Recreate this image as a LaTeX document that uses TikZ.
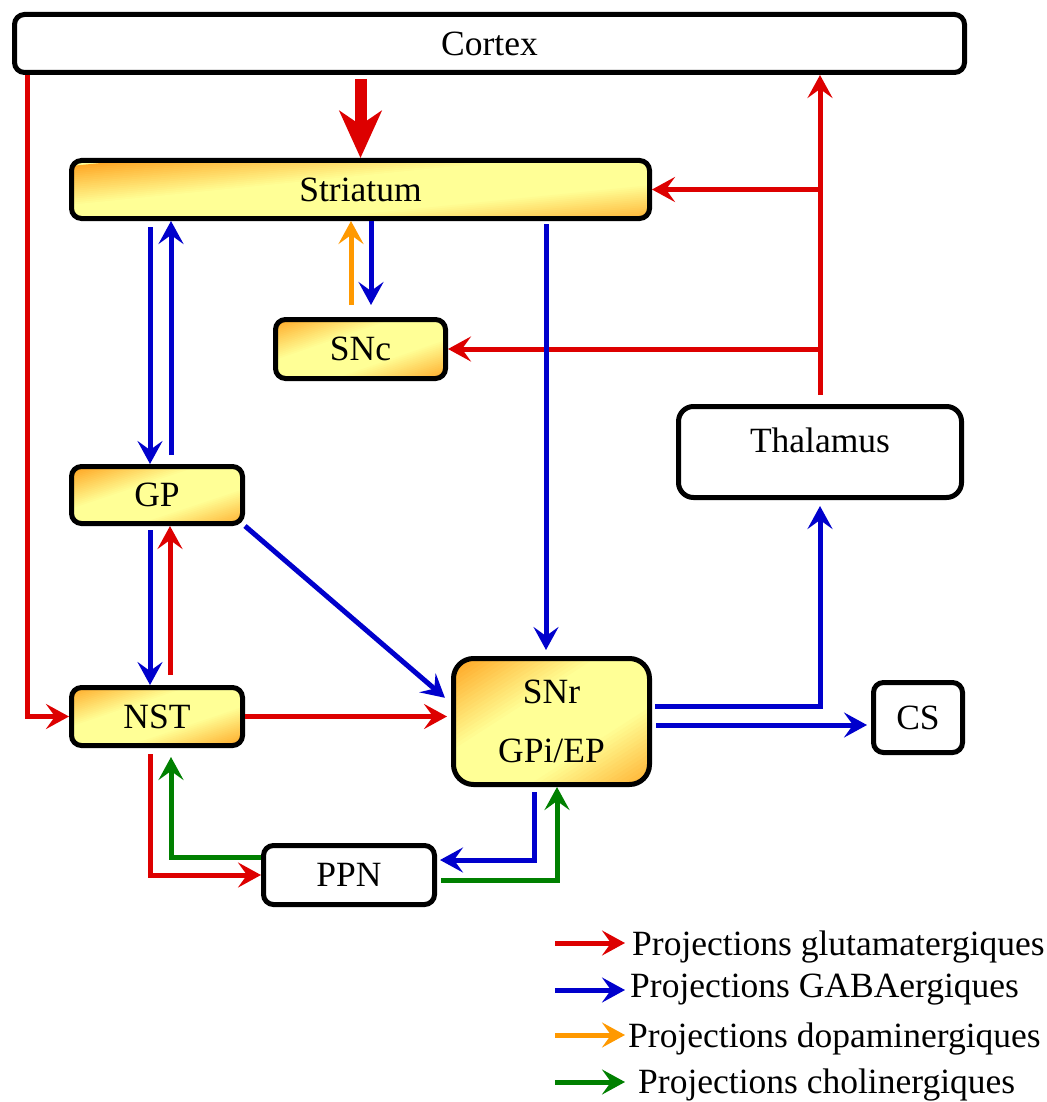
\documentclass[tikz,border=0pt]{standalone}
\usepackage{fontspec}
\setmainfont{Liberation Serif}
\usetikzlibrary{arrows.meta,calc}
\definecolor{cred}{RGB}{221,0,0}
\definecolor{cblue}{RGB}{0,0,204}
\definecolor{corange}{RGB}{255,153,0}
\definecolor{cgreen}{RGB}{0,128,0}
\definecolor{gorange}{RGB}{255,168,38}
\definecolor{gyellow}{RGB}{255,255,150}
% diagonal gradient: orange at top-left and bottom-right corners, yellow band along the other diagonal
\newcommand{\nucgradient}{%
  \begin{scope}[shift={(path picture bounding box.center)},
      x={($(path picture bounding box.east)-(path picture bounding box.center)$)},
      y={($(path picture bounding box.north)-(path picture bounding box.center)$)}]
    \foreach \nucI in {0,...,59}{%
      \pgfmathsetmacro{\nucS}{-2+4*\nucI/60}%
      \pgfmathsetmacro{\nucD}{abs((\nucI+0.5)/60-0.5)*2}%
      \pgfmathsetmacro{\nucO}{max(0,min(100,(\nucD-0.32)/0.68*100))}%
      \fill[gorange!\nucO!gyellow] (\nucS-2,-2) -- (\nucS+2,2) -- (5,2) -- (5,-2) -- cycle;
    }
  \end{scope}}
\tikzset{
  nucleus/.style={draw, line width=5pt, rounded corners=10pt, fill=gyellow, path picture={\nucgradient}, inner sep=0pt, font=\fontsize{35.5}{42}\selectfont},
  plainbox/.style={draw, line width=5pt, rounded corners=10pt, fill=white, inner sep=0pt, font=\fontsize{35.5}{42}\selectfont},
  tip/.style={-{Stealth[length=23pt, width=25pt, inset=9pt]}},
  proj/.style={line width=5pt, tip},
  glu/.style={proj, draw=cred, color=cred},
  gaba/.style={proj, draw=cblue, color=cblue},
  dopa/.style={proj, draw=corange, color=corange},
  chol/.style={proj, draw=cgreen, color=cgreen},
  legtext/.style={anchor=base west, inner sep=0pt, font=\fontsize{35.5}{42}\selectfont},
}
\begin{document}
\begin{tikzpicture}[x=1pt, y=-1pt]
\useasboundingbox[fill=white] (0,0) rectangle (1046,1102);
% nodes
\node[plainbox, minimum width=950, minimum height=58] (cortex) at (489.5,43.5) {Cortex};
\node[nucleus, minimum width=578, minimum height=58] (striatum) at (360.5,189.5) {Striatum};
\node[nucleus, minimum width=170, minimum height=59] (snc) at (360.5,349) {SNc};
\node[nucleus, minimum width=171, minimum height=57] (gp) at (157,495) {GP};
\node[nucleus, minimum width=171, minimum height=58] (nst) at (157,716.5) {NST};
\node[nucleus, rounded corners=20pt, minimum width=196, minimum height=126, align=center, font=\fontsize{35.5}{59}\selectfont] (snr) at (551.5,721.5) {SNr\\GPi/EP};
\node[plainbox, rounded corners=15pt, minimum width=283, minimum height=91, text depth=24pt] (thal) at (820,452) {Thalamus};
\node[plainbox, minimum width=89, minimum height=70] (cs) at (918,717.5) {CS};
\node[plainbox, minimum width=171, minimum height=59] (ppn) at (349,875) {PPN};

% cortex -> striatum (thick)
\draw[draw=cred, color=cred, line width=12pt, -{Stealth[length=47pt, width=42pt, inset=14pt]}, shorten <=4pt] (cortex.south -| striatum.north) -- (striatum.north);
% cortex -> NST
\draw[glu] (cortex.south -| 27,0) -- (27,0 |- nst.west) -- (nst.west);
% thalamus -> cortex, striatum, SNc
\draw[glu, shorten <=9pt] (thal.north) -- (thal.north |- cortex.south);
\draw[glu] (thal.north |- striatum.east) -- (striatum.east);
\draw[glu] (thal.north |- snc.east) -- (snc.east);
% striatum <-> GP
\draw[gaba, shorten <=6pt] (150,0 |- striatum.south) -- (150,0 |- gp.north);
\draw[gaba, shorten <=9pt] (171,0 |- gp.north) -- (171,0 |- striatum.south);
% striatum <-> SNc
\draw[dopa, shorten <=12pt] (351,0 |- snc.north) -- (351,0 |- striatum.south);
\draw[gaba, shorten >=12pt] (371,0 |- striatum.south) -- (371,0 |- snc.north);
% striatum -> SNr
\draw[gaba, shorten <=3pt, shorten >=6pt] (546,0 |- striatum.south) -- (546,0 |- snr.north);
% GP <-> NST
\draw[gaba, shorten <=4pt] (150,0 |- gp.south) -- (150,0 |- nst.north);
\draw[glu, shorten <=10pt] (170,0 |- nst.north) -- (170,0 |- gp.south);
% GP -> SNr
\draw[gaba, shorten >=8pt] (gp.south east) -- (snr.west |- 0,703);
% NST -> SNr
\draw[glu, shorten >=4pt] (nst.east) -- (nst.east -| snr.west);
% NST <-> PPN
\draw[glu, shorten <=6pt] (150,0 |- nst.south) -- (150,0 |- ppn.west) -- (ppn.west);
\draw[chol, shorten >=9pt] (ppn.west |- 0,857) -- (171,857) -- (171,0 |- nst.south);
% SNr <-> PPN
\draw[gaba, shorten <=5pt, shorten >=3pt] (534,0 |- snr.south) -- (534,860) -- (ppn.east |- 0,860);
\draw[chol, shorten <=4pt] (ppn.east |- 0,880) -- (557,880) -- (557,0 |- snr.south);
% SNr -> thalamus, CS
\draw[gaba, shorten <=3pt, shorten >=6pt] (snr.east |- 0,706) -- (820,706) -- (thal.south);
\draw[gaba, shorten <=4pt, shorten >=4pt] (snr.east |- 0,725) -- (cs.west |- 0,725);

% legend
\node[legtext] (lg1) at (632,955) {Projections glutamatergiques};
\node[legtext] (lg2) at (630,997) {Projections GABAergiques};
\node[legtext] (lg3) at (628,1047) {Projections dopaminergiques};
\node[legtext] (lg4) at (638,1093) {Projections cholinergiques};
\coordinate (la1) at (555,943); \coordinate (lb1) at (625,943);
\coordinate (la2) at (555,990); \coordinate (lb2) at (625,990);
\coordinate (la3) at (555,1035); \coordinate (lb3) at (625,1035);
\coordinate (la4) at (555,1082); \coordinate (lb4) at (625,1082);
\draw[glu] (la1) -- (lb1);
\draw[gaba] (la2) -- (lb2);
\draw[dopa] (la3) -- (lb3);
\draw[chol] (la4) -- (lb4);
\end{tikzpicture}
\end{document}
